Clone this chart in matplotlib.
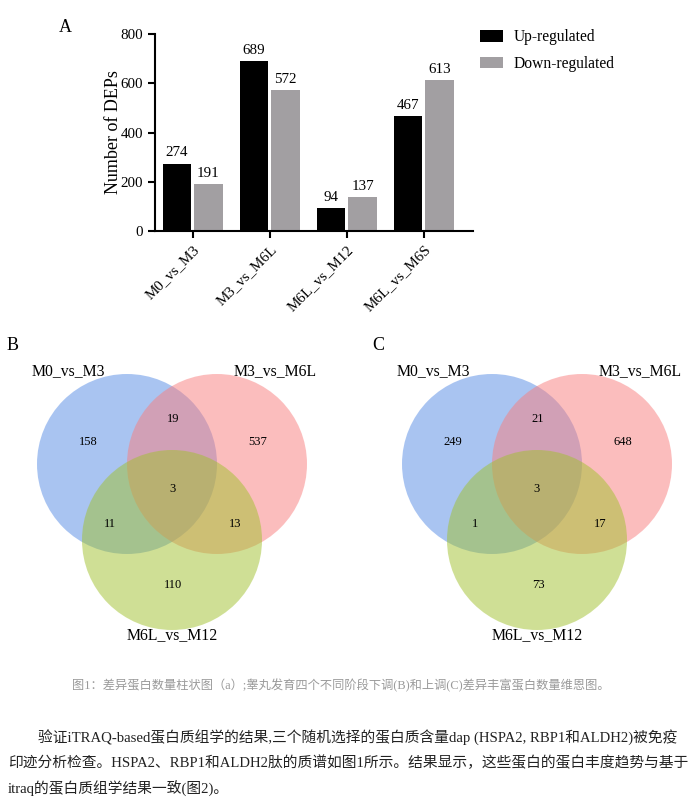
import matplotlib.pyplot as plt
from matplotlib.patches import Circle
import numpy as np

# Bar chart data (panel A)
comparisons = ["M0_vs_M3", "M3_vs_M6L", "M6L_vs_M12", "M6L_vs_M6S"]
up_regulated = [274, 689, 94, 467]
down_regulated = [191, 572, 137, 613]

# Venn data: only A, only B, only C, AB, AC, BC, ABC
venn_sets = ["M0_vs_M3", "M3_vs_M6L", "M6L_vs_M12"]
venn_down = [158, 537, 110, 19, 11, 13, 3]   # panel B
venn_up = [249, 648, 73, 21, 1, 17, 3]       # panel C

caption = "图1：差异蛋白数量柱状图（a）;睾丸发育四个不同阶段下调(B)和上调(C)差异丰富蛋白数量维恩图。"
paragraph = [
    "验证iTRAQ-based蛋白质组学的结果,三个随机选择的蛋白质含量dap (HSPA2, RBP1和ALDH2)被免疫",
    "印迹分析检查。HSPA2、RBP1和ALDH2肽的质谱如图1所示。结果显示，这些蛋白的蛋白丰度趋势与基于",
    "itraq的蛋白质组学结果一致(图2)。",
]

serif = ["Liberation Serif", "Noto Sans CJK SC"]
plt.rcParams["font.family"] = serif

W, H = 690, 811
fig = plt.figure(figsize=(W / 100, H / 100), dpi=100)

# overlay axes in pixel coordinates for venns and text
ov = fig.add_axes([0, 0, 1, 1])
ov.set_xlim(0, W)
ov.set_ylim(H, 0)
ov.axis("off")

# ---- panel A: grouped bars ----
ax = fig.add_axes([155 / W, 1 - 231 / H, (473 - 155) / W, (231 - 34) / H])
x = np.arange(len(comparisons))
bw = 0.37
b1 = ax.bar(x - bw / 2 - 0.02, up_regulated, bw, color="black", label="Up-regulated")
b2 = ax.bar(x + bw / 2 + 0.02, down_regulated, bw, color="#a29fa2", label="Down-regulated")
ax.bar_label(b1, padding=3, fontsize=10.8)
ax.bar_label(b2, padding=3, fontsize=10.8)
ax.set_xlim(-0.49, 3.64)
ax.set_ylim(0, 800)
ax.set_yticks([0, 200, 400, 600, 800])
ax.set_xticks(x)
ax.set_xticklabels(comparisons, rotation=45, ha="right", rotation_mode="anchor", fontsize=10.8)
ax.tick_params(axis="both", width=1.5, length=5, labelsize=10.8)
for s in ["top", "right"]:
    ax.spines[s].set_visible(False)
for s in ["left", "bottom"]:
    ax.spines[s].set_linewidth(1.5)
ax.set_ylabel("Number of DEPs", fontsize=13)
ax.yaxis.set_label_coords(-0.105, 0.5)
ax.legend(loc="upper left", bbox_to_anchor=(466 / W, 1 - 15 / H), bbox_transform=fig.transFigure,
          frameon=False, fontsize=11.2, handlelength=1.45, handleheight=0.8,
          handletextpad=0.7, labelspacing=0.7)
ov.text(65, 27, "A", fontsize=13, ha="center", va="center")

# ---- panels B and C: venns ----
colors = ["#558be5", "#f97d7d", "#a1c12d"]
centers = [(127, 464), (217, 464), (172, 540)]
r = 90
label_pos = [(68, 371), (275, 371), (172, 635)]
count_pos = [(88, 442), (258, 442), (173, 585), (173, 419), (110, 524), (235, 524), (172, 489)]

for dx, letter, counts in [(0, "B", venn_down), (365, "C", venn_up)]:
    for (cx, cy), c in zip(centers, colors):
        ov.add_patch(Circle((cx + dx, cy), r, facecolor=c, alpha=0.5, edgecolor="none"))
    for (lx, ly), name in zip(label_pos, venn_sets):
        ov.text(lx + dx, ly, name, fontsize=11.3, ha="center", va="center")
    for (px, py), n in zip(count_pos, counts):
        ov.text(px + dx, py, str(n), fontsize=9, ha="center", va="center")
    ov.text(13 + dx, 345, letter, fontsize=13, ha="center", va="center")

# ---- caption and body text ----
ov.text(341, 686, caption, fontsize=8.8, color="#9a9a9a", ha="center", va="center")
ov.text(38, 738, paragraph[0], fontsize=10.6, color="#222222", ha="left", va="center")
ov.text(8, 763, paragraph[1], fontsize=10.6, color="#222222", ha="left", va="center")
ov.text(8, 789, paragraph[2], fontsize=10.6, color="#222222", ha="left", va="center")

fig.savefig("out.png", dpi=100)
